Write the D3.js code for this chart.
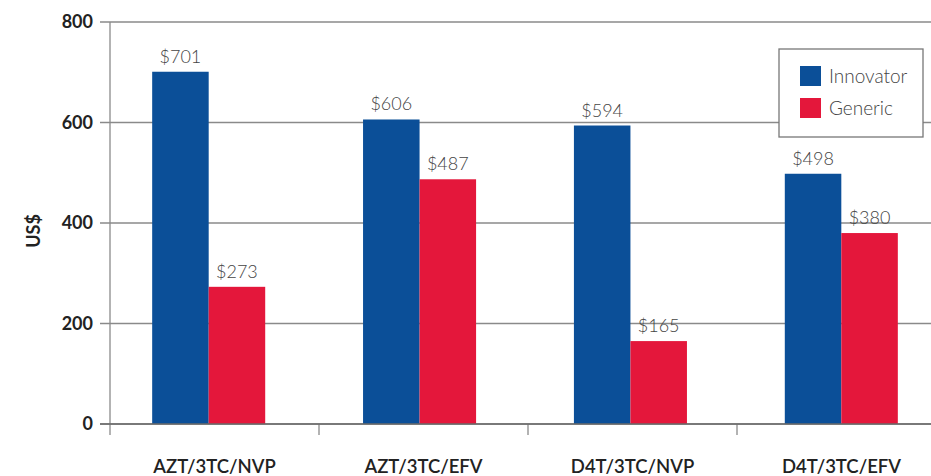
<!DOCTYPE html>
<html lang="en">
<head>
<meta charset="UTF-8">
<title>Innovator vs Generic prices</title>
<script src="https://d3js.org/d3.v7.min.js"></script>
<style>
  body { margin:0; background:#fff; }
  svg { display:block; font-family: Lato, "Open Sans", sans-serif; }
  .grid line { stroke:#8a8a8a; stroke-width:1.3px; }
  .val { font-size:18px; font-weight:300; fill:#444; }
  .leg { font-size:19px; font-weight:300; fill:#444; }
  .ytick { font-size:18px; font-weight:700; fill:#222; }
  .cat { font-size:18.5px; font-weight:600; fill:#222; }
</style>
</head>
<body>
<svg width="931" height="476"></svg>
<script>
const categories = ['AZT/3TC/NVP', 'AZT/3TC/EFV', 'D4T/3TC/NVP', 'D4T/3TC/EFV'];
const series = ['Innovator', 'Generic'];
const innovator = [701, 606, 594, 498];
const generic = [273, 487, 165, 380];
const yTicks = [0, 200, 400, 600, 800];
const colors = ['#0b4f98', '#e4173b'];

const svg = d3.select('svg');
const mLeft = 110, mRight = 946, mTop = 22, mBottom = 424;

const y = d3.scaleLinear().domain([0, 800]).range([mBottom, mTop]);
// category slots (labels, separator ticks)
const xc = d3.scaleBand().domain(categories).range([mLeft, mRight]);
// bar groups
const x0 = d3.scaleBand().domain(categories).range([mLeft, mRight - 6]).paddingInner(0.464).paddingOuter(0.2);
const x1 = d3.scaleBand().domain(series).range([0, x0.bandwidth()]);

const rows = categories.map((c, i) => ({ cat: c, vals: [innovator[i], generic[i]] }));

// gridlines
svg.append('g').attr('class', 'grid')
  .selectAll('line').data(yTicks).join('line')
  .attr('x1', mLeft - 10).attr('x2', 931)
  .attr('y1', d => y(d)).attr('y2', d => y(d));

// y axis line
svg.append('line').attr('x1', mLeft).attr('x2', mLeft)
  .attr('y1', mTop).attr('y2', mBottom + 11)
  .attr('stroke', '#8a8a8a').attr('stroke-width', 1.3);

// category separator ticks
svg.append('g').selectAll('line').data(categories.slice(1)).join('line')
  .attr('x1', d => xc(d)).attr('x2', d => xc(d))
  .attr('y1', mBottom).attr('y2', mBottom + 11)
  .attr('stroke', '#8a8a8a').attr('stroke-width', 1.3);

svg.append('g').selectAll('text').data(yTicks).join('text')
  .attr('class', 'ytick')
  .attr('x', mLeft - 17).attr('y', d => y(d)).attr('dy', '0.35em')
  .attr('text-anchor', 'end').text(d => d);

svg.append('text').attr('class', 'ytick')
  .attr('transform', `translate(40,${(mTop + mBottom) / 2 + 8}) rotate(-90)`)
  .attr('text-anchor', 'middle').text('US$');

// bars
const groups = svg.append('g').selectAll('g').data(rows).join('g')
  .attr('transform', d => `translate(${x0(d.cat)},0)`);

groups.selectAll('rect').data(d => d.vals.map((v, j) => ({ s: series[j], v, j }))).join('rect')
  .attr('x', d => x1(d.s)).attr('width', x1.bandwidth())
  .attr('y', d => y(d.v)).attr('height', d => mBottom - y(d.v))
  .attr('fill', d => colors[d.j]);

groups.selectAll('text').data(d => d.vals.map((v, j) => ({ s: series[j], v, j }))).join('text')
  .attr('class', 'val')
  .attr('x', d => x1(d.s) + x1.bandwidth() / 2).attr('y', d => y(d.v) - 9)
  .attr('text-anchor', 'middle').text(d => '$' + d.v);

// baseline on top of bars
svg.append('line').attr('x1', mLeft - 10).attr('x2', 931)
  .attr('y1', mBottom).attr('y2', mBottom)
  .attr('stroke', '#6a6a6a').attr('stroke-width', 1.5);

// category labels
svg.append('g').selectAll('text').data(categories).join('text')
  .attr('class', 'cat')
  .attr('x', d => xc(d) + xc.bandwidth() / 2).attr('y', 473)
  .attr('text-anchor', 'middle').text(d => d);

// legend
const lg = svg.append('g').attr('transform', 'translate(779,49)');
lg.append('rect').attr('width', 144).attr('height', 88)
  .attr('fill', '#fff').attr('stroke', '#777').attr('stroke-width', 1.3);
series.forEach((s, i) => {
  lg.append('rect').attr('x', 21).attr('y', 17 + i * 32).attr('width', 21).attr('height', 20)
    .attr('fill', colors[i]);
  lg.append('text').attr('class', 'leg').attr('x', 50).attr('y', 27 + i * 32)
    .attr('dy', '0.35em').text(s);
});
</script>
</body>
</html>
